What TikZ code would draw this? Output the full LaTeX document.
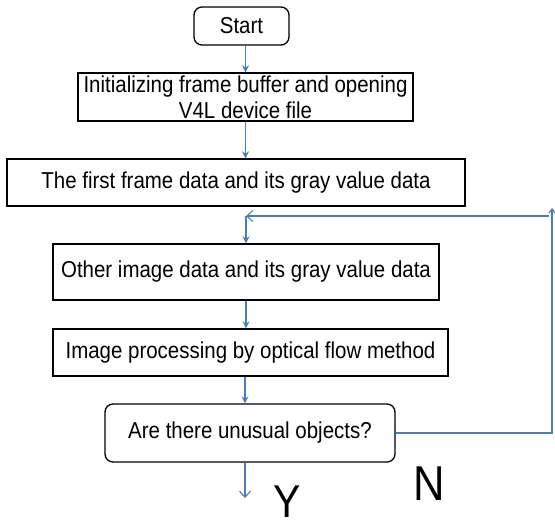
\documentclass[tikz,border=0pt]{standalone}
\usepackage{fontspec}
\setmainfont{Liberation Sans}[FakeStretch=0.89]
\usetikzlibrary{arrows.meta}
\definecolor{flowblue}{HTML}{4A7EBB}
\tikzset{box/.style={draw, line width=1.3pt, inner sep=0pt, align=center,
         font=\fontsize{23}{26}\selectfont},
         rbox/.style={box, rounded corners=8pt},
         flow/.style={draw=flowblue, line width=1.1pt, -{Stealth[length=7pt,width=7pt]}},
         flowopen/.style={draw=flowblue, line width=1.1pt, -{Straight Barb[length=6pt,width=11pt]}}}
\begin{document}
\begin{tikzpicture}[x=1pt,y=-1pt]
\useasboundingbox (0,0) rectangle (555,528);
% boxes
\node[rbox, minimum width=95pt, minimum height=38pt] (start) at (241.5,26) {Start};
\node[box, minimum width=335pt, minimum height=48pt] (init) at (245.5,97) {Initializing frame buffer and opening\\V4L device file};
\node[box, minimum width=458pt, minimum height=47pt] (first) at (236,182.5) {The first frame data and its gray value data};
\node[box, minimum width=386pt, minimum height=56pt] (other) at (246,272) {Other image data and its gray value data};
\node[box, minimum width=395pt, minimum height=47pt] (optflow) at (250.5,352.5) {Image processing by optical flow method};
\node[rbox, minimum width=290pt, minimum height=58pt] (unusual) at (250,433) {Are there unusual objects?};
\node[font=\fontsize{46}{47}\selectfont, anchor=base, inner sep=0pt] (yes) at (287.5,517) {Y};
\node[font=\fontsize{49}{50}\selectfont, anchor=base, inner sep=0pt] (no) at (429.5,500) {N};
% loop points
\coordinate (loopbot) at (552,433);
\coordinate (looptop) at (552,208);
\coordinate (loopin) at (549,216);
\coordinate (join) at (246,216);
\coordinate (yesend) at (245,498);
% arrows
\draw[flow] (start.south -| init.north) -- (init.north);
\draw[flow] (init.south) -- (init.south |- first.north);
\draw[flow] (join) -- (join |- other.north);
\draw[flow] (other.south) -- (other.south |- optflow.north);
\draw[flow] (optflow.south -| yesend) -- (yesend |- unusual.north);
\draw[flowopen] (unusual.south -| yesend) -- (yesend);
\draw[flowopen, -{Straight Barb[length=4pt,width=6pt]}] (unusual.east) -- (loopbot) -- (looptop);
\draw[flowopen] (loopin) -- (join);
\end{tikzpicture}
\end{document}
